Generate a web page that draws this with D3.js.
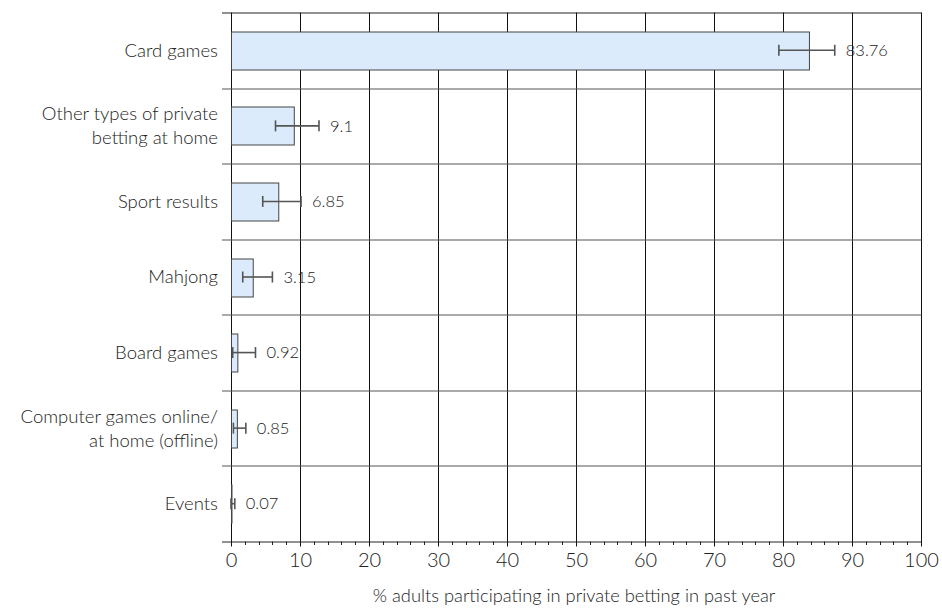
<!DOCTYPE html>
<html>
<head>
<meta charset="utf-8">
<script src="https://cdn.jsdelivr.net/npm/d3@7"></script>
<style>
  html, body { margin: 0; padding: 0; background: #fff; }
  svg { display: block; font-family: Lato, "Open Sans", sans-serif; font-weight: 300; }
</style>
</head>
<body>
<svg id="chart" width="942" height="610"></svg>
<script>
// Private betting activities, share of adults in the past year
const categories = [
  ["Card games"],
  ["Other types of private", "betting at home"],
  ["Sport results"],
  ["Mahjong"],
  ["Board games"],
  ["Computer games online/", "at home (offline)"],
  ["Events"]
];
const values = [83.76, 9.1, 6.85, 3.15, 0.92, 0.85, 0.07];
const lower  = [79.4, 6.45, 4.6, 1.7, 0.25, 0.35, 0.0];
const upper  = [87.5, 12.75, 10.15, 6.0, 3.55, 2.15, 0.55];
const valueLabels = ["83.76", "9.1", "6.85", "3.15", "0.92", "0.85", "0.07"];
const xTicks = [0, 10, 20, 30, 40, 50, 60, 70, 80, 90, 100];
const xTitle = "% adults participating in private betting in past year";

const svg = d3.select("#chart");
const margin = { top: 12.5, right: 21, bottom: 68.5, left: 231 };
const W = 942, H = 610;
const plotW = W - margin.left - margin.right;
const plotH = H - margin.top - margin.bottom;

const x = d3.scaleLinear().domain([0, 100]).range([0, plotW]);
const idx = d3.range(categories.length);
const band = d3.scaleBand().domain(idx).range([0, plotH]).paddingInner(0).paddingOuter(0);
const barH = band.bandwidth() * 0.5;

const g = svg.append("g").attr("transform", `translate(${margin.left},${margin.top})`);

// vertical gridlines at major ticks
g.append("g").selectAll("line").data(xTicks).join("line")
  .attr("x1", d => Math.round(x(d)) + 0.5).attr("x2", d => Math.round(x(d)) + 0.5)
  .attr("y1", 0).attr("y2", plotH + 5)
  .attr("stroke", "#111").attr("stroke-width", 1);

// horizontal row separators, extending left of the axis
const seps = d3.range(categories.length + 1);
g.append("g").selectAll("line").data(seps).join("line")
  .attr("x1", -9).attr("x2", plotW + 0.5)
  .attr("y1", d => Math.round(d * band.step()) + 0.5)
  .attr("y2", d => Math.round(d * band.step()) + 0.5)
  .attr("stroke", (d, i) => (i === 0 || i === seps.length - 1) ? "#222" : "#555")
  .attr("stroke-width", 1);

// minor ticks every 2 units
const minor = d3.range(0, 101, 2).filter(v => v % 10 !== 0);
g.append("g").selectAll("line").data(minor).join("line")
  .attr("x1", d => Math.round(x(d)) + 0.5).attr("x2", d => Math.round(x(d)) + 0.5)
  .attr("y1", plotH).attr("y2", plotH + 3.5)
  .attr("stroke", "#222").attr("stroke-width", 1);

// tick labels via axis generator
const xAxis = d3.axisBottom(x).tickValues(xTicks).tickSize(0).tickPadding(11);
const ax = g.append("g").attr("transform", `translate(0,${plotH})`).call(xAxis);
ax.select(".domain").remove();
ax.selectAll("text")
  .attr("font-size", 20).attr("fill", "#222")
  .attr("font-family", "Lato, 'Open Sans', sans-serif").attr("font-weight", 300);

// bars
g.append("g").selectAll("rect").data(idx).join("rect")
  .attr("x", x(0) + 0.5)
  .attr("y", i => Math.round(band(i) + (band.bandwidth() - barH) / 2) + 0.5)
  .attr("width", i => Math.max(0, x(values[i]) - x(0)))
  .attr("height", Math.round(barH))
  .attr("fill", "#dbebfb").attr("stroke", "#444").attr("stroke-width", 1);

// error bars
const eb = g.append("g").attr("stroke", "#555").attr("stroke-width", 1.6);
idx.forEach(i => {
  const cy = band(i) + band.bandwidth() / 2;
  eb.append("line").attr("x1", x(lower[i])).attr("x2", x(upper[i])).attr("y1", cy).attr("y2", cy);
  [lower[i], upper[i]].forEach(v => {
    eb.append("line").attr("x1", x(v)).attr("x2", x(v)).attr("y1", cy - 5.5).attr("y2", cy + 5.5);
  });
});

// value labels
g.append("g").selectAll("text").data(idx).join("text")
  .attr("x", i => x(upper[i]) + 11)
  .attr("y", i => band(i) + band.bandwidth() / 2)
  .attr("dy", "0.35em")
  .attr("font-size", 16.5).attr("fill", "#222")
  .text(i => valueLabels[i]);

// category labels
const cl = g.append("g");
idx.forEach(i => {
  const lines = categories[i];
  const cy = band(i) + band.bandwidth() / 2;
  const lh = 24;
  const t = cl.append("text")
    .attr("text-anchor", "end").attr("font-size", 18.5).attr("fill", "#222");
  lines.forEach((s, k) => {
    t.append("tspan").attr("x", -13)
      .attr("y", cy + (k - (lines.length - 1) / 2) * lh)
      .attr("dy", "0.35em").text(s);
  });
});

// axis title
svg.append("text")
  .attr("x", margin.left + plotW / 2 - 2).attr("y", 602)
  .attr("text-anchor", "middle").attr("font-size", 18.3).attr("fill", "#222")
  .text(xTitle);
</script>
</body>
</html>
